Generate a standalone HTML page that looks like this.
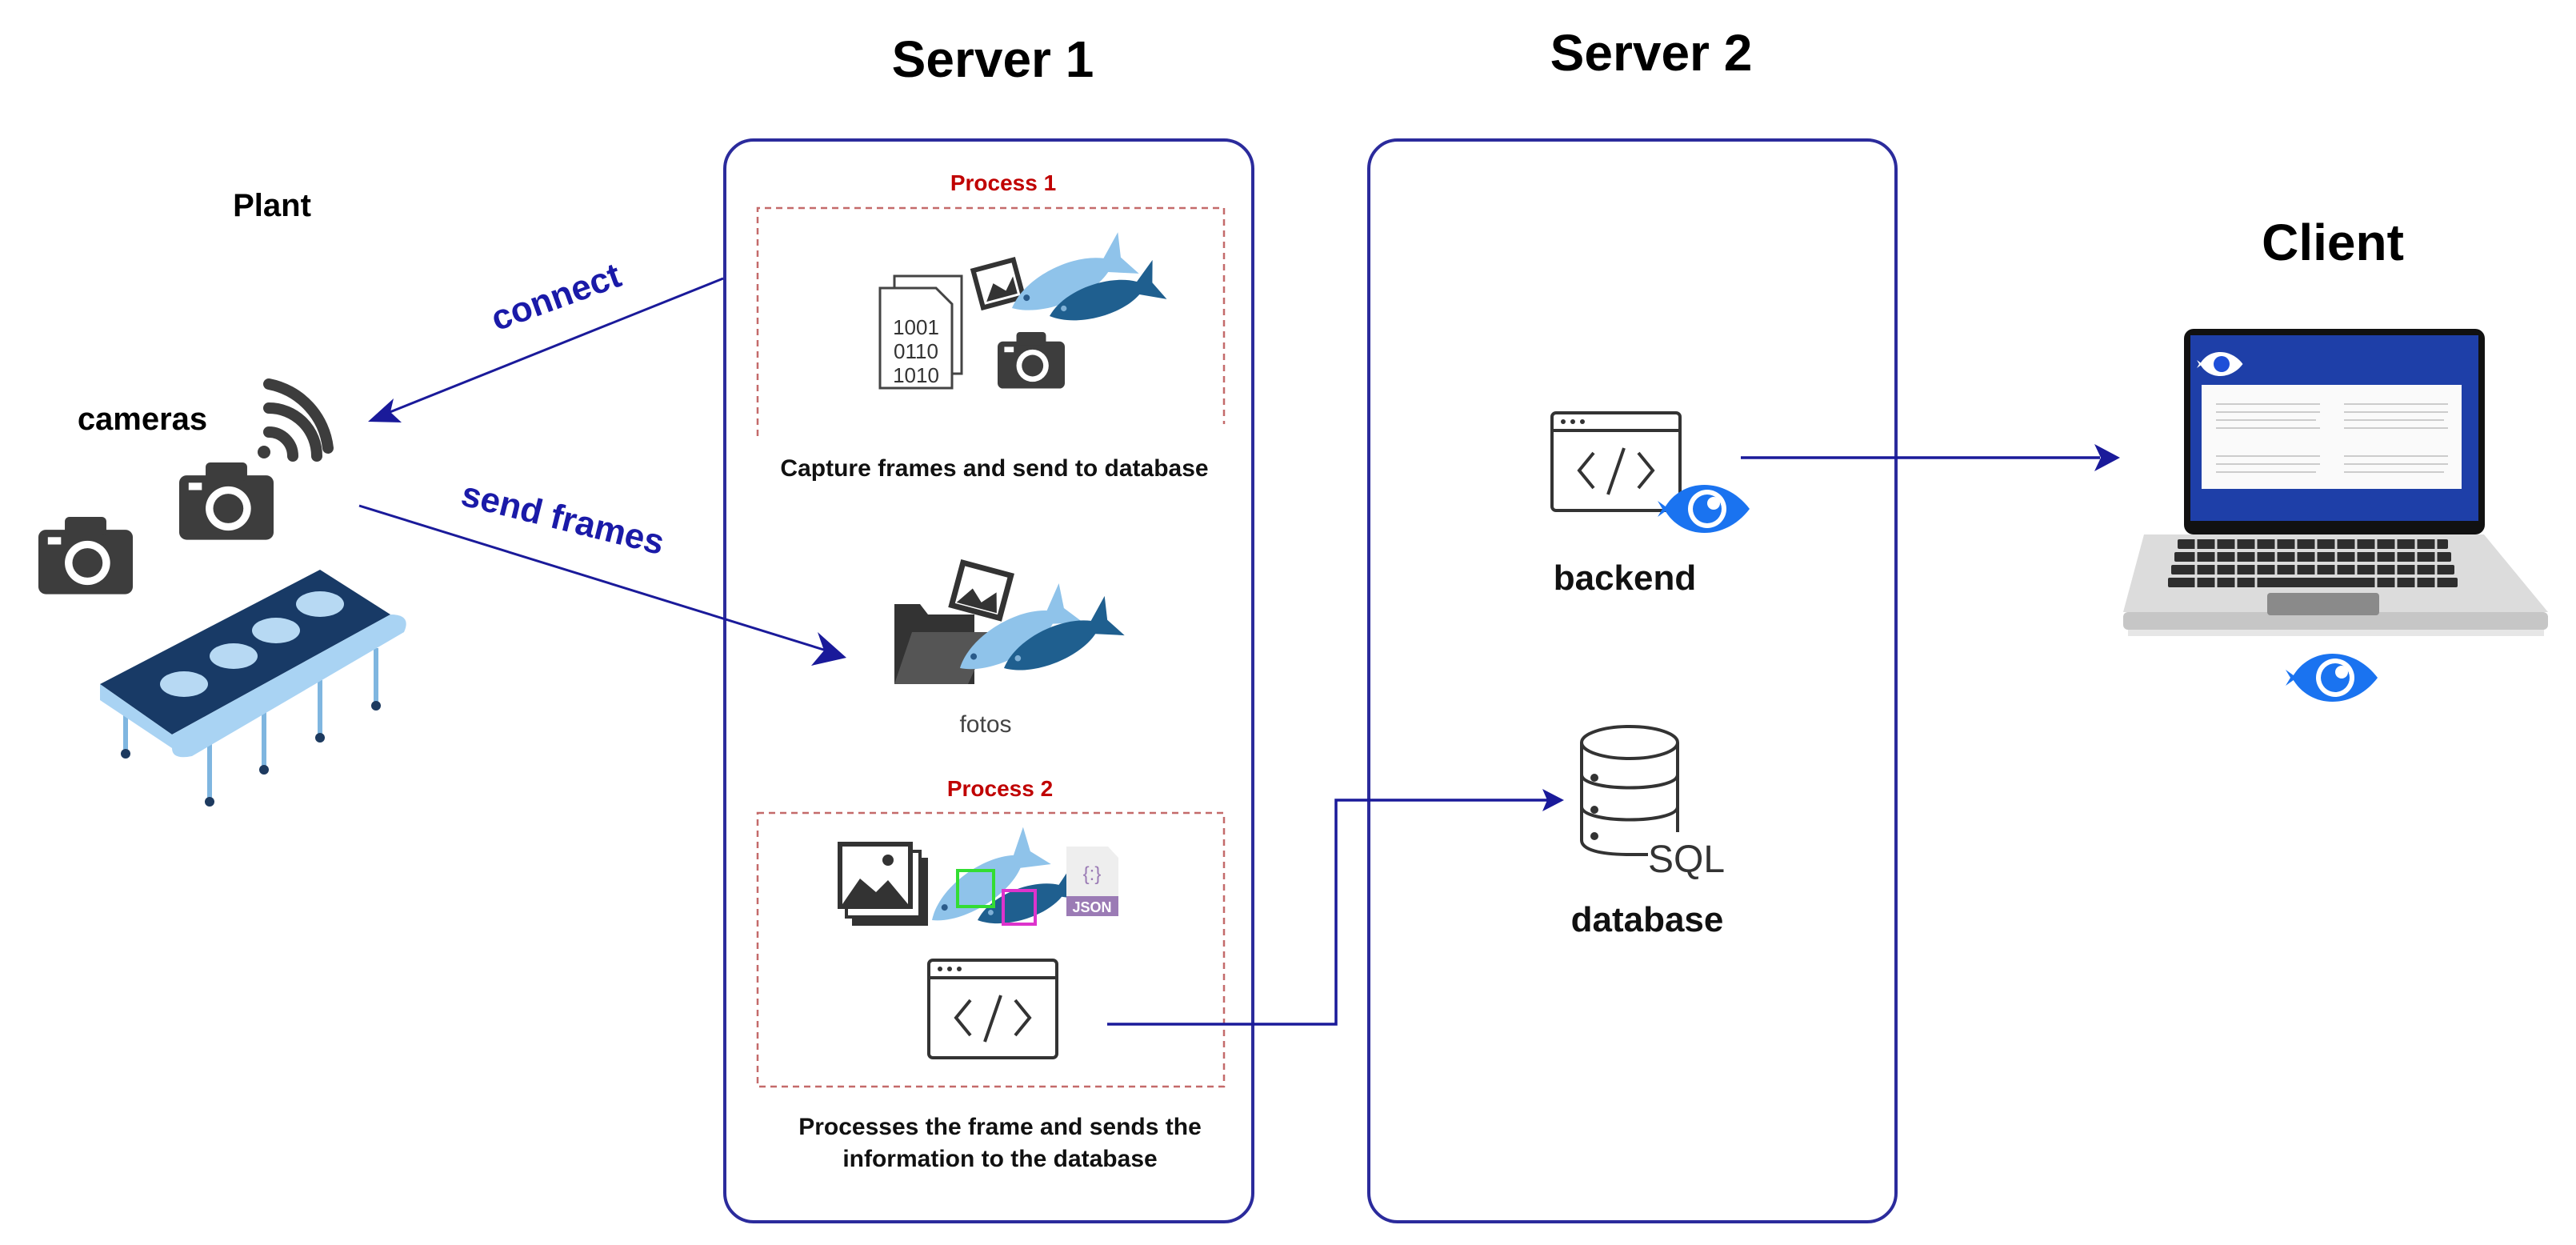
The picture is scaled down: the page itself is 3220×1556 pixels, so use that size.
<!DOCTYPE html>
<html><head><meta charset="utf-8"><style>
html,body{margin:0;padding:0;background:#fff;}
svg{display:block}
text{font-family:"Liberation Sans","DejaVu Sans",sans-serif;}
</style></head><body>
<svg width="3220" height="1556" viewBox="0 0 3220 1556" xmlns="http://www.w3.org/2000/svg">
<defs>
<g id="fishL"><path d="M0,0 C30,-28 95,-30 130,-8 L160,-30 L150,0 L162,28 L128,10 C95,30 30,26 0,0Z" fill="#8fc3ea"/><circle cx="22" cy="-4" r="4" fill="#2a5b8a"/></g>
<g id="fishD"><path d="M0,0 C30,-28 95,-30 130,-8 L160,-30 L150,0 L162,28 L128,10 C95,30 30,26 0,0Z" fill="#1f5f8f"/><circle cx="22" cy="-4" r="4" fill="#7fb0d6"/></g>
<g id="cam"><rect x="0" y="14" width="100" height="70" rx="8" fill="#3d3d3d"/><rect x="28" y="0" width="44" height="20" rx="5" fill="#3d3d3d"/><circle cx="52" cy="50" r="24" fill="#fff"/><circle cx="52" cy="50" r="16" fill="#3d3d3d"/><rect x="10" y="22" width="14" height="8" fill="#fff"/></g>
<g id="eye"><path d="M0,-10 L14,0 L0,10 L6,0Z" fill="#1a73f0"/><path d="M8,0 C30,-40 85,-40 115,0 C85,40 30,40 8,0Z" fill="#1a73f0"/><circle cx="62" cy="0" r="24" fill="#fff"/><circle cx="62" cy="0" r="18" fill="#1a73f0"/><circle cx="70" cy="-7" r="8" fill="#fff"/></g>
<g id="code"><rect x="0" y="0" width="160" height="122" rx="5" fill="#fff" stroke="#333" stroke-width="4"/><line x1="0" y1="22" x2="160" y2="22" stroke="#333" stroke-width="4"/><circle cx="14" cy="11" r="3" fill="#333"/><circle cx="26" cy="11" r="3" fill="#333"/><circle cx="38" cy="11" r="3" fill="#333"/><path d="M52,50 L34,72 L52,94 M108,50 L126,72 L108,94 M90,44 L70,102" stroke="#333" stroke-width="4" fill="none"/></g>
</defs>

<text x="1241" y="96" font-size="64" font-weight="bold" text-anchor="middle" fill="#000">Server 1</text>
<text x="2064" y="88" font-size="64" font-weight="bold" text-anchor="middle" fill="#000">Server 2</text>
<text x="2916" y="325" font-size="64" font-weight="bold" text-anchor="middle" fill="#000">Client</text>
<text x="340" y="270" font-size="40" font-weight="bold" text-anchor="middle" fill="#000">Plant</text>
<text x="178" y="537" font-size="40" font-weight="bold" text-anchor="middle" fill="#000">cameras</text>

<rect x="906" y="175" width="660" height="1352" rx="36" fill="none" stroke="#2b2b9c" stroke-width="4"/>
<rect x="1711" y="175" width="659" height="1352" rx="36" fill="none" stroke="#2b2b9c" stroke-width="4"/>

<text x="1254" y="238" font-size="28" font-weight="bold" text-anchor="middle" fill="#c00000">Process 1</text>
<path d="M947,545 L947,260 L1530,260 L1530,530" fill="none" stroke="#c46a6a" stroke-width="2.5" stroke-dasharray="8,6"/>
<text x="1243" y="595" font-size="30" font-weight="bold" text-anchor="middle" fill="#111">Capture frames and send to database</text>
<rect x="1118" y="345" width="84" height="122" fill="#fff" stroke="#444" stroke-width="3"/>
<path d="M1100,360 L1170,360 L1190,380 L1190,485 L1100,485Z" fill="#fff" stroke="#444" stroke-width="3"/>
<text x="1145" y="418" font-size="26" text-anchor="middle" fill="#333" font-family="Liberation Mono">1001</text>
<text x="1145" y="448" font-size="26" text-anchor="middle" fill="#333" font-family="Liberation Mono">0110</text>
<text x="1145" y="478" font-size="26" text-anchor="middle" fill="#333" font-family="Liberation Mono">1010</text>
<g transform="rotate(-15 1250 355)"><rect x="1222" y="330" width="52" height="48" fill="#fff" stroke="#333" stroke-width="6"/><path d="M1228,372 L1242,352 L1255,365 L1268,350 L1268,372Z" fill="#333"/></g>
<g transform="translate(1265 385) rotate(-25)"><use href="#fishL"/></g>
<g transform="translate(1312 395) rotate(-18) scale(0.9)"><use href="#fishD"/></g>
<use href="#cam" transform="translate(1247 415) scale(0.84)"/>

<path d="M1118,755 L1150,755 L1160,768 L1218,768 L1218,855 L1118,855Z" fill="#333"/>
<path d="M1140,790 L1240,790 L1210,855 L1118,855Z" fill="#555"/>
<g transform="rotate(15 1225 740)"><rect x="1195" y="710" width="62" height="55" fill="#fff" stroke="#333" stroke-width="7"/><path d="M1200,760 L1215,738 L1230,752 L1245,735 L1252,760Z" fill="#333"/></g>
<g transform="translate(1200 835) rotate(-30)"><use href="#fishL"/></g>
<g transform="translate(1255 835) rotate(-25) scale(0.95)"><use href="#fishD"/></g>
<text x="1232" y="915" font-size="30" text-anchor="middle" fill="#444">fotos</text>

<text x="1250" y="995" font-size="28" font-weight="bold" text-anchor="middle" fill="#c00000">Process 2</text>
<rect x="947" y="1016" width="583" height="342" fill="none" stroke="#c46a6a" stroke-width="2.5" stroke-dasharray="8,6"/>
<rect x="1065" y="1072" width="95" height="85" fill="#333"/>
<rect x="1058" y="1064" width="92" height="82" fill="#fff" stroke="#333" stroke-width="4"/>
<rect x="1050" y="1055" width="88" height="78" fill="#fff" stroke="#333" stroke-width="6"/>
<path d="M1053,1130 L1075,1098 L1095,1115 L1110,1100 L1135,1130Z" fill="#333"/><circle cx="1110" cy="1075" r="7" fill="#333"/>
<g transform="translate(1165 1150) rotate(-35)"><use href="#fishL"/></g>
<g transform="translate(1222 1150) rotate(-20) scale(0.85)"><use href="#fishD"/></g>
<rect x="1197" y="1088" width="45" height="45" fill="none" stroke="#33dd33" stroke-width="4"/>
<rect x="1254" y="1113" width="40" height="42" fill="none" stroke="#dd33cc" stroke-width="4"/>
<path d="M1333,1058 L1385,1058 L1398,1072 L1398,1145 L1333,1145Z" fill="#eee"/>
<rect x="1333" y="1120" width="65" height="25" fill="#9b7bb5"/>
<text x="1365" y="1100" font-size="24" text-anchor="middle" fill="#9b7bb5">{:}</text>
<text x="1365" y="1140" font-size="18" font-weight="bold" text-anchor="middle" fill="#fff">JSON</text>
<use href="#code" transform="translate(1161 1200)"/>
<text x="1250" y="1418" font-size="30" font-weight="bold" text-anchor="middle" fill="#111">Processes the frame and sends the</text>
<text x="1250" y="1458" font-size="30" font-weight="bold" text-anchor="middle" fill="#111">information to the database</text>

<path d="M1384,1280 L1670,1280 L1670,1000 L1935,1000" fill="none" stroke="#1a1a9a" stroke-width="3.5"/>
<path d="M1955,1000 L1928,986 L1934,1000 L1928,1014Z" fill="#1a1a9a"/>

<use href="#code" transform="translate(1940 516)"/>
<use href="#eye" transform="translate(2072 636)"/>
<text x="2031" y="737" font-size="44" font-weight="bold" text-anchor="middle" fill="#111">backend</text>
<line x1="2176" y1="572" x2="2625" y2="572" stroke="#1a1a9a" stroke-width="3.5"/>
<path d="M2650,572 L2618,555 L2626,572 L2618,589Z" fill="#1a1a9a"/>
<g fill="#fff" stroke="#333" stroke-width="4">
<path d="M1977,928 L1977,1050 C1977,1062 2000,1068 2037,1068 L2060,1068"/>
<path d="M2097,928 L2097,1040"/>
<ellipse cx="2037" cy="928" rx="60" ry="20"/>
<path d="M1977,968 C1977,990 2097,990 2097,968" fill="none"/>
<path d="M1977,1008 C1977,1030 2097,1030 2097,1008" fill="none"/>
</g>
<circle cx="1993" cy="972" r="5" fill="#333"/><circle cx="1993" cy="1012" r="5" fill="#333"/><circle cx="1993" cy="1045" r="5" fill="#333"/>
<text x="2108" y="1090" font-size="48" text-anchor="middle" fill="#333">SQL</text>
<text x="2059" y="1164" font-size="44" font-weight="bold" text-anchor="middle" fill="#111">database</text>

<!-- laptop -->
<path d="M2680,668 L3105,668 L3185,765 L2654,765Z" fill="#dcdcdc"/>
<rect x="2654" y="765" width="531" height="22" rx="6" fill="#c6c6c6"/>
<rect x="2660" y="787" width="520" height="8" fill="#e6e6e6"/>
<g fill="#2e2e2e">
<rect x="2722" y="674" width="338" height="12" rx="2"/>
<rect x="2718" y="690" width="346" height="12" rx="2"/>
<rect x="2714" y="706" width="354" height="12" rx="2"/>
<rect x="2710" y="722" width="362" height="12" rx="2"/>
</g>
<g stroke="#dcdcdc" stroke-width="3">
<path d="M2745,672 V736 M2770,672 V736 M2795,672 V736 M2820,672 V736 M2845,672 V720 M2870,672 V720 M2895,672 V720 M2920,672 V720 M2945,672 V720 M2970,672 V736 M2995,672 V736 M3020,672 V736 M3045,672 V736"/>
</g>
<rect x="2834" y="741" width="140" height="28" rx="4" fill="#8a8a8a"/>
<rect x="2730" y="411" width="376" height="257" rx="12" fill="#111"/>
<rect x="2738" y="419" width="360" height="232" fill="#1e3fa8"/>
<rect x="2752" y="481" width="325" height="130" fill="#fafafa"/>
<g stroke="#ccc" stroke-width="2">
<line x1="2770" y1="505" x2="2900" y2="505"/><line x1="2770" y1="515" x2="2900" y2="515"/><line x1="2770" y1="525" x2="2895" y2="525"/><line x1="2770" y1="535" x2="2900" y2="535"/>
<line x1="2930" y1="505" x2="3060" y2="505"/><line x1="2930" y1="515" x2="3060" y2="515"/><line x1="2930" y1="525" x2="3055" y2="525"/><line x1="2930" y1="535" x2="3060" y2="535"/>
<line x1="2770" y1="570" x2="2900" y2="570"/><line x1="2770" y1="580" x2="2900" y2="580"/><line x1="2770" y1="590" x2="2895" y2="590"/>
<line x1="2930" y1="570" x2="3060" y2="570"/><line x1="2930" y1="580" x2="3060" y2="580"/><line x1="2930" y1="590" x2="3055" y2="590"/>
</g>
<g transform="translate(2746 455) scale(0.5)"><path d="M0,-10 L14,0 L0,10 L6,0Z" fill="#fff"/><path d="M8,0 C30,-40 85,-40 115,0 C85,40 30,40 8,0Z" fill="#fff"/><circle cx="62" cy="0" r="20" fill="#1e4fd8"/></g>
<use href="#eye" transform="translate(2857 847)"/>

<!-- plant -->
<g fill="none" stroke="#3d3d3d" stroke-width="14" stroke-linecap="round">
<path d="M336,540 A30,30 0 0 1 366,570"/>
<path d="M336,510 A60,60 0 0 1 396,570"/>
<path d="M336,480 A92,92 0 0 1 410,560"/>
</g>
<circle cx="330" cy="565" r="8" fill="#3d3d3d"/>
<use href="#cam" transform="translate(224 578) scale(1.18 1.15)"/>
<use href="#cam" transform="translate(48 646) scale(1.18 1.15)"/>
<g stroke="#7fb6e0" stroke-width="6">
<line x1="157" y1="880" x2="157" y2="940"/><line x1="262" y1="930" x2="262" y2="1000"/><line x1="330" y1="885" x2="330" y2="960"/><line x1="400" y1="850" x2="400" y2="920"/><line x1="470" y1="810" x2="470" y2="880"/>
</g>
<g fill="#1d3a5f"><circle cx="157" cy="942" r="6"/><circle cx="262" cy="1002" r="6"/><circle cx="330" cy="962" r="6"/><circle cx="400" cy="922" r="6"/><circle cx="470" cy="882" r="6"/></g>
<path d="M125,855 L400,712 L488,768 L215,918Z" fill="#183a66"/>
<path d="M125,855 L215,918 L215,935 L125,875Z" fill="#a9d3f3"/>
<path d="M215,918 L488,768 Q515,768 505,790 L240,945 Q215,950 215,935Z" fill="#a9d3f3"/>
<g fill="#b7d9f3">
<ellipse cx="230" cy="855" rx="30" ry="16"/><ellipse cx="292" cy="820" rx="30" ry="16"/><ellipse cx="345" cy="788" rx="30" ry="16"/><ellipse cx="400" cy="755" rx="30" ry="16"/>
</g>

<line x1="904" y1="348" x2="480" y2="518" stroke="#1a1a9a" stroke-width="3"/>
<path d="M460,527 L492,498 L488,515 L502,528Z" fill="#1a1a9a"/>
<text x="0" y="0" font-size="44" font-weight="bold" fill="#1a1aa8" text-anchor="middle" transform="translate(700 385) rotate(-20)">connect</text>
<line x1="449" y1="632" x2="1036" y2="814" stroke="#1a1a9a" stroke-width="3"/>
<path d="M1058,822 L1022,790 L1030,813 L1014,832Z" fill="#1a1a9a"/>
<text x="0" y="0" font-size="44" font-weight="bold" fill="#1a1aa8" text-anchor="middle" transform="translate(700 662) rotate(14)">send frames</text>
</svg>
</body></html>
